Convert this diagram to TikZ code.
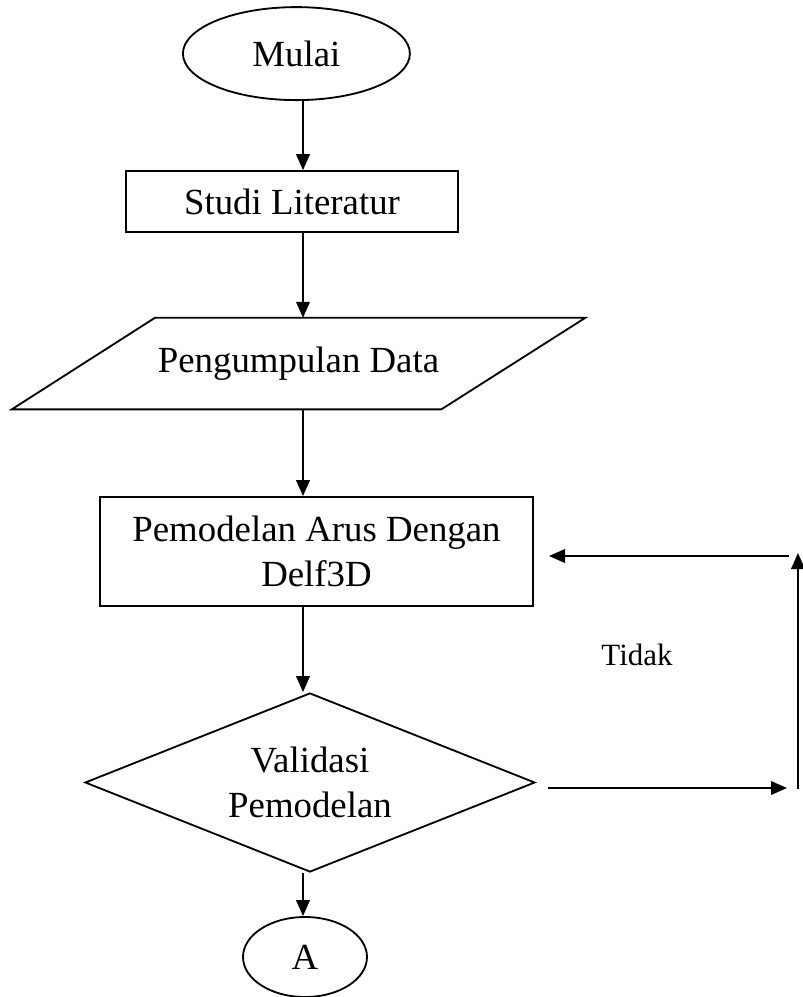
\documentclass[tikz,border=0pt]{standalone}
\usepackage{fontspec}
\setmainfont{Liberation Serif}
\usepackage{tikz}
\usetikzlibrary{
  arrows.meta, shapes.geometric, positioning, calc
}
\newcommand{\flowtext}{\fontsize{26.2}{32}\selectfont}
\newcommand{\notetext}{\fontsize{22}{26}\selectfont}
\tikzset{
  terminal/.style={
    ellipse, draw=black, line width=1.3pt, inner sep=0pt,
    minimum width=5.675cm, minimum height=2.325cm,
    align=center, font=\flowtext
  },
  process/.style={
    rectangle, draw=black, line width=1.3pt,
    minimum width=#1, minimum height=1.525cm,
    align=center, font=\flowtext
  },
  io/.style={
    rectangle, inner sep=0pt,
    minimum width=14.325cm, minimum height=2.275cm,
    align=center, font=\flowtext
  },
  decision/.style={
    diamond, draw=black, line width=1.3pt, inner sep=0pt, aspect=2.5,
    minimum width=11.25cm, minimum height=4.475cm,
    align=center, font=\flowtext
  },
  connector/.style={
    ellipse, draw=black, line width=1.3pt, inner sep=0pt,
    minimum width=3.1cm, minimum height=2.0cm,
    font=\flowtext
  },
  arrow/.style={-{Triangle[length=4mm,width=3.4mm]}, line width=1.3pt, draw=black},
  line/.style={line width=1.3pt, draw=black, line join=miter}
}
\begin{document}
\begin{tikzpicture}
  \useasboundingbox (0,0) rectangle (20.075,-24.925);
  \coordinate (axis) at (7.575,0);

  \node[terminal] (mulai) at (7.41,-1.34) {Mulai};
  \node[process=8.3cm] (studi) at (7.3,-5.04) {Studi Literatur};
  \node[io] (data) at (7.4625,-9.09) {Pengumpulan Data};
  \draw[line] ($(data.north west)+(3.58,0)$) -- (data.north east)
    -- ($(data.south east)+(-3.6,0)$) -- (data.south west) -- cycle;
  \node[process=10.825cm, minimum height=2.725cm]
    (pemodelan) at (7.9125,-13.7875) {Pemodelan Arus Dengan\\Delf3D};
  \node[decision] (validasi) at (7.75,-19.5625) {Validasi\\Pemodelan};
  \node[connector] (konektor) at (7.625,-23.925) {A};

  \draw[arrow] (mulai.south -| axis) -- (studi.north -| axis);
  \draw[arrow] (studi.south -| axis) -- (data.north -| axis);
  \draw[arrow] (data.south -| axis) -- (pemodelan.north -| axis);
  \draw[arrow] (pemodelan.south -| axis) -- (validasi.north -| axis);
  \draw[arrow] (validasi.south -| axis) -- (konektor.north -| axis);

  \coordinate (tidakA) at (13.7,-19.7);
  \coordinate (tidakB) at (19.675,-19.7);
  \coordinate (naikA) at (19.95,-19.725);
  \coordinate (naikB) at (19.95,-13.825);
  \coordinate (balikA) at (19.725,-13.9);
  \coordinate (balikB) at (13.725,-13.9);
  \draw[arrow] (tidakA) -- (tidakB);
  \draw[arrow] (naikA) -- (naikB);
  \draw[arrow] (balikA) -- (balikB);

  \node[font=\notetext] (tidak) at (15.925,-16.375) {Tidak};
\end{tikzpicture}
\end{document}
